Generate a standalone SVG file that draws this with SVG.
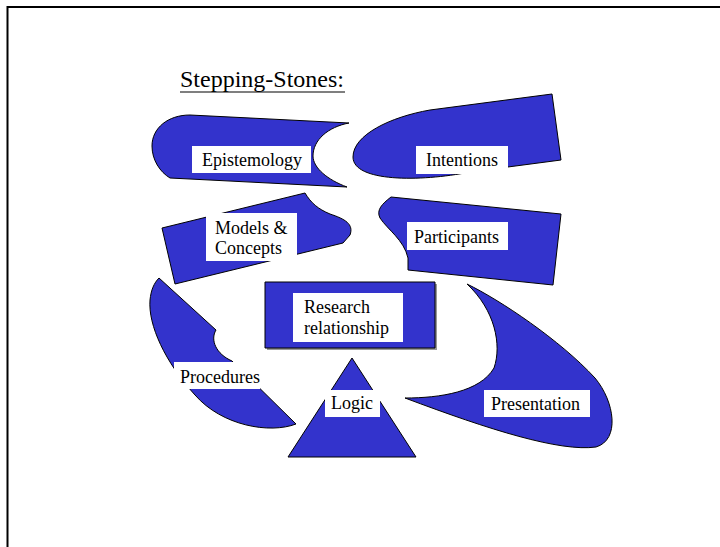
<svg xmlns="http://www.w3.org/2000/svg" width="720" height="547" viewBox="0 0 720 547">
<style>
.shape{fill:#3333CC;stroke:#000;stroke-width:1;stroke-linejoin:round}
.box{fill:#fff;stroke:none}
.lbl{font-family:'Liberation Serif','DejaVu Serif',serif;font-size:18px;fill:#000}
.title{font-family:'Liberation Serif','DejaVu Serif',serif;font-size:24px;fill:#000}
</style>
<rect x="0" y="0" width="720" height="547" fill="#fff"/>
<path d="M7.5,547 L7.5,7 L720,7" fill="none" stroke="#000" stroke-width="2"/>
<text class="title" x="180" y="87">Stepping-Stones:</text>
<line x1="180" y1="92" x2="345" y2="92" stroke="#000" stroke-width="1.2"/>

<g id="epistemology">
<path class="shape" d="M349,123 L190,115 C168,115 152,128 152,146 C152,160 160,172 170,178 L347,187 C328,180 313,168 313,156 C313,140 328,127 349,123 Z"/>
<rect class="box" x="192" y="146" width="119" height="27"/>
<text class="lbl" x="202" y="166">Epistemology</text>
</g>

<g id="intentions">
<path class="shape" d="M353,157 C353,135 390,117 430,110 L552,94 L561,160 L470,172 C420,182 353,182 353,157 Z"/>
<rect class="box" x="416" y="146" width="92" height="28"/>
<text class="lbl" x="426" y="166">Intentions</text>
</g>

<g id="models">
<path class="shape" d="M162,228 L305,193 C311,203 318,209 330,214 C345,219 354,224 350,235 L343,243 L175,284 Z"/>
<rect class="box" x="206" y="213" width="91" height="48"/>
<text class="lbl" x="215" y="234">Models &amp;</text>
<text class="lbl" x="215" y="254">Concepts</text>
</g>

<g id="participants">
<path class="shape" d="M391,197 L561,214 L553,285 L408,270 L408,258 C404,240 388,230 380,218 C376,210 382,204 391,197 Z"/>
<rect class="box" x="407" y="222" width="101" height="28"/>
<text class="lbl" x="414" y="243">Participants</text>
</g>

<g id="procedures">
<path class="shape" d="M159,278 L216,330 C210,340 216,354 232,361 L296,424 C270,434 222,426 195,395 C165,362 148,325 150,300 C151,290 154,283 159,278 Z"/>
<rect class="box" x="174" y="362" width="86" height="27"/>
<text class="lbl" x="180" y="383">Procedures</text>
</g>

<g id="research">
<rect x="267" y="284" width="170" height="66" fill="#999"/>
<rect class="shape" x="265" y="282" width="170" height="66"/>
<rect class="box" x="293" y="293" width="110" height="49"/>
<text class="lbl" x="304" y="313">Research</text>
<text class="lbl" x="304" y="334">relationship</text>
</g>

<g id="logic">
<path class="shape" d="M352,358 L416,457 L288,457 Z"/>
<rect class="box" x="325" y="390" width="55" height="27"/>
<text class="lbl" x="331" y="409">Logic</text>
</g>

<g id="presentation">
<path class="shape" d="M467,284 C500,300 560,340 595,378 C615,402 620,440 596,447 C560,452 490,430 405,398 C440,398 480,392 494,368 C502,345 495,310 467,284 Z"/>
<rect class="box" x="484" y="390" width="106" height="27"/>
<text class="lbl" x="491" y="410">Presentation</text>
</g>
</svg>
